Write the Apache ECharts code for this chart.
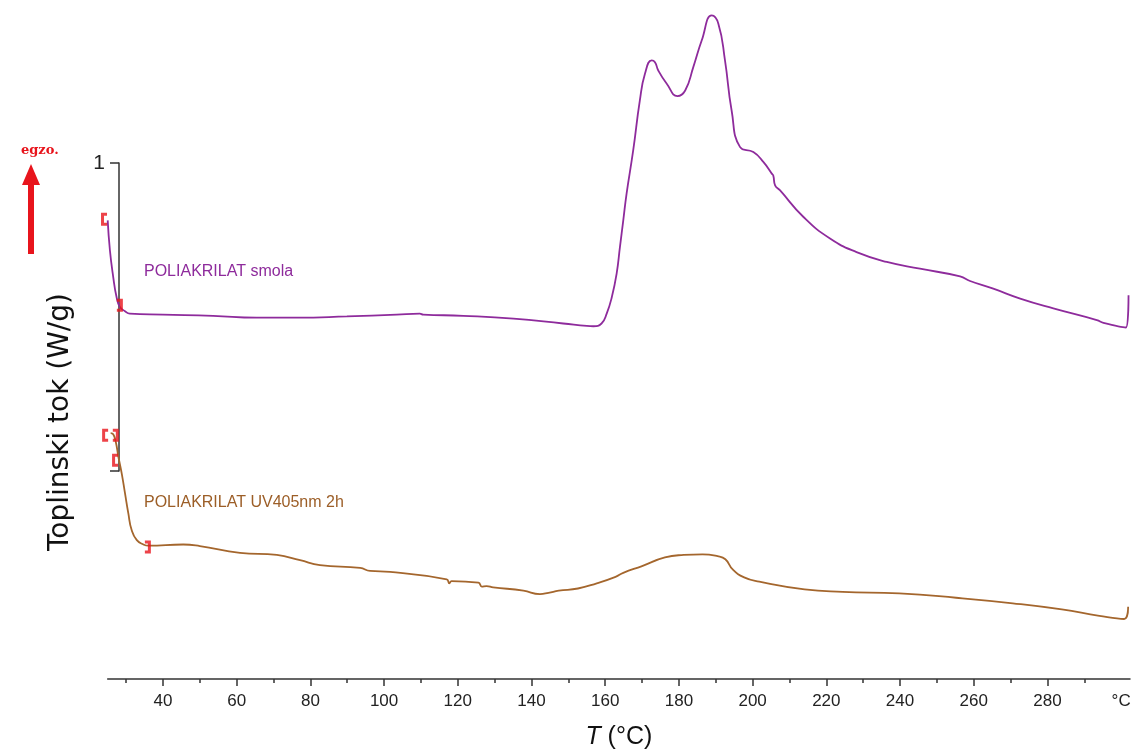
<!DOCTYPE html>
<html>
<head>
<meta charset="utf-8">
<script src="https://cdn.jsdelivr.net/npm/echarts@6/dist/echarts.min.js"></script>
<style>
html,body{margin:0;padding:0;background:#fff;}
#chart{width:1133px;height:751px;}
</style>
</head>
<body>
<div id="chart"></div>
<script>
// Temperature (°C) and heat flow (W/g, arbitrary offset)
const smolaT = [25.0,25.6,26.5,27.4,28.3,29.7,31.0,40.0,53.6,65.4,76.3,89.9,103.4,109.7,110.6,121.5,135.1,148.6,155.0,156.8,159.0,160.4,161.8,163.1,164.0,164.9,165.8,167.6,169.4,170.8,172.6,173.5,174.4,176.7,179.6,181.7,183.9,186.2,188.9,190.7,192.5,194.3,196.6,200.2,202.9,205.2,205.6,206.1,207.4,213.8,221.0,228.2,236.4,245.4,256.3,259.0,265.3,272.6,281.6,293.4,295.2,301.3,302.0];
const smolaW = [1.490,1.393,1.306,1.241,1.209,1.195,1.187,1.184,1.180,1.174,1.174,1.178,1.184,1.187,1.184,1.180,1.171,1.155,1.147,1.146,1.155,1.187,1.241,1.317,1.404,1.490,1.577,1.718,1.880,1.967,2.010,2.004,1.977,1.934,1.894,1.912,1.988,2.075,2.156,2.129,2.010,1.847,1.728,1.712,1.680,1.642,1.636,1.604,1.588,1.501,1.431,1.387,1.355,1.333,1.308,1.293,1.268,1.236,1.204,1.166,1.157,1.142,1.247];

const uvT = [25.8,26.5,27.2,27.9,28.8,29.7,30.6,31.5,32.9,34.7,36.0,45.5,50.0,60.9,70.9,77.2,82.6,93.5,96.2,101.6,117.0,117.7,118.3,125.6,126.5,127.8,129.6,137.8,142.3,144.6,147.4,152.6,157.7,162.8,164.9,170.0,176.2,181.3,186.4,190.5,192.6,194.6,197.7,201.8,214.1,224.4,239.8,255.2,270.6,283.9,294.1,300.8,301.9];
const uvW = [0.799,0.795,0.770,0.722,0.668,0.603,0.538,0.484,0.451,0.437,0.433,0.437,0.432,0.410,0.403,0.386,0.370,0.361,0.351,0.348,0.324,0.311,0.318,0.313,0.300,0.302,0.298,0.287,0.276,0.280,0.287,0.294,0.311,0.332,0.345,0.367,0.395,0.403,0.405,0.399,0.389,0.356,0.330,0.316,0.291,0.283,0.278,0.264,0.246,0.226,0.205,0.195,0.235];

// analysis limit brackets
const leftBrackets = [[24.0,1.494],[24.3,0.792],[27.0,0.711]];
const rightBrackets = [[28.3,1.214],[27.2,0.792],[35.9,0.429]];

// axis ticks
const majorTicks = [40,60,80,100,120,140,160,180,200,220,240,260,280];
const labelTicks = [40,60,80,100,120,140,160,180,200,220,240,260,280,300];
const minorTicks = [30,50,70,90,110,130,150,170,190,210,230,250,270,290];
const unitLabel = '°C';
const scaleBar = [0, 1];

const seriesNames = ['POLIAKRILAT smola', 'POLIAKRILAT UV405nm 2h'];
const yTitle = 'Toplinski tok (W/g)';
const xTitle = '{it|T} (°C)';

const zip = (a, b) => a.map((v, i) => [v, b[i]]);

const PURPLE = '#8E2B9C';
const BROWN = '#A4662D';
const RED = '#E8141C';

const chart = echarts.init(document.getElementById('chart'), null, {renderer: 'canvas'});
const xMin = 25, xMax = 302.4;

chart.setOption({
  animation: false,
  backgroundColor: '#fff',
  grid: [
    {left: 107.7, right: 3, top: 8, bottom: 72, outerBoundsMode: 'none', containLabel: false},
    {left: 119, top: 163, width: 10, height: 308, outerBoundsMode: 'none', containLabel: false}
  ],
  xAxis: [
    {
      type: 'value', gridIndex: 0, min: xMin, max: xMax, position: 'bottom',
      axisLine: {show: true, lineStyle: {color: '#333', width: 1.5}},
      axisTick: {show: true, length: 7, customValues: majorTicks, lineStyle: {color: '#333', width: 1.5}},
      axisLabel: {show: true, customValues: labelTicks, margin: 14, color: '#222', fontSize: 17,
        fontFamily: 'Liberation Sans',
        formatter: v => v === 300 ? unitLabel : String(v)},
      splitLine: {show: false},
      name: xTitle, nameLocation: 'middle', nameGap: 46,
      nameTextStyle: {color: '#111', fontSize: 25, fontFamily: 'Liberation Sans',
        rich: {it: {fontStyle: 'italic', fontSize: 25, fontFamily: 'Liberation Sans', color: '#111'}}}
    },
    {
      type: 'value', gridIndex: 0, min: xMin, max: xMax, position: 'bottom',
      axisLine: {show: false},
      axisTick: {show: true, length: 4, customValues: minorTicks, lineStyle: {color: '#333', width: 1.5}},
      axisLabel: {show: false},
      splitLine: {show: false}
    },
    {type: 'value', gridIndex: 1, show: false, min: 0, max: 1}
  ],
  yAxis: [
    {type: 'value', gridIndex: 0, min: 0, max: 2.18, show: false},
    {
      type: 'value', gridIndex: 1, min: scaleBar[0], max: scaleBar[1], interval: 1, position: 'left',
      axisLine: {show: true, lineStyle: {color: '#333', width: 1.5}},
      axisTick: {show: true, length: 9, lineStyle: {color: '#333', width: 1.5}},
      axisLabel: {show: true, margin: 14, color: '#222', fontSize: 21, fontFamily: 'Liberation Sans',
        formatter: v => v === 1 ? '1' : ''},
      splitLine: {show: false}
    }
  ],
  series: [
    {
      name: seriesNames[0], type: 'line', xAxisIndex: 0, yAxisIndex: 0,
      data: zip(smolaT, smolaW), showSymbol: false, smooth: 0.5,
      lineStyle: {color: PURPLE, width: 1.8}, z: 3
    },
    {
      name: seriesNames[1], type: 'line', xAxisIndex: 0, yAxisIndex: 0,
      data: zip(uvT, uvW), showSymbol: false, smooth: 0.5,
      lineStyle: {color: BROWN, width: 1.8}, z: 3
    },
    {
      type: 'scatter', xAxisIndex: 0, yAxisIndex: 0, clip: false, z: 4,
      data: leftBrackets,
      symbol: 'path://M0,0 H6 V3 H3 V10 H6 V13 H0 Z', symbolSize: [6, 13],
      itemStyle: {color: RED}
    },
    {
      type: 'scatter', xAxisIndex: 0, yAxisIndex: 0, clip: false, z: 4,
      data: rightBrackets,
      symbol: 'path://M0,0 H6 V13 H0 V10 H3 V3 H0 Z', symbolSize: [6, 13],
      itemStyle: {color: RED}
    }
  ],
  graphic: [
    {type: 'text', left: 21, top: 144, style: {text: 'egzo.', fill: RED, font: 'bold 13px "DejaVu Serif"'}},
    {type: 'polygon', shape: {points: [[22,185],[31,164],[40,185],[34,185],[34,254],[28,254],[28,185]]}, style: {fill: RED}},
    {type: 'text', x: 61, y: 422, rotation: Math.PI / 2,
      style: {text: yTitle, fill: '#111', font: '28px "DejaVu Sans"', align: 'center', verticalAlign: 'middle'}},
    {type: 'text', x: 144, y: 272,
      style: {text: seriesNames[0], fill: PURPLE, font: '16px "Liberation Sans"', align: 'left', verticalAlign: 'middle'}},
    {type: 'text', x: 144, y: 503,
      style: {text: seriesNames[1], fill: '#9C5E27', font: '16px "Liberation Sans"', align: 'left', verticalAlign: 'middle'}}
  ]
});
</script>
</body>
</html>
